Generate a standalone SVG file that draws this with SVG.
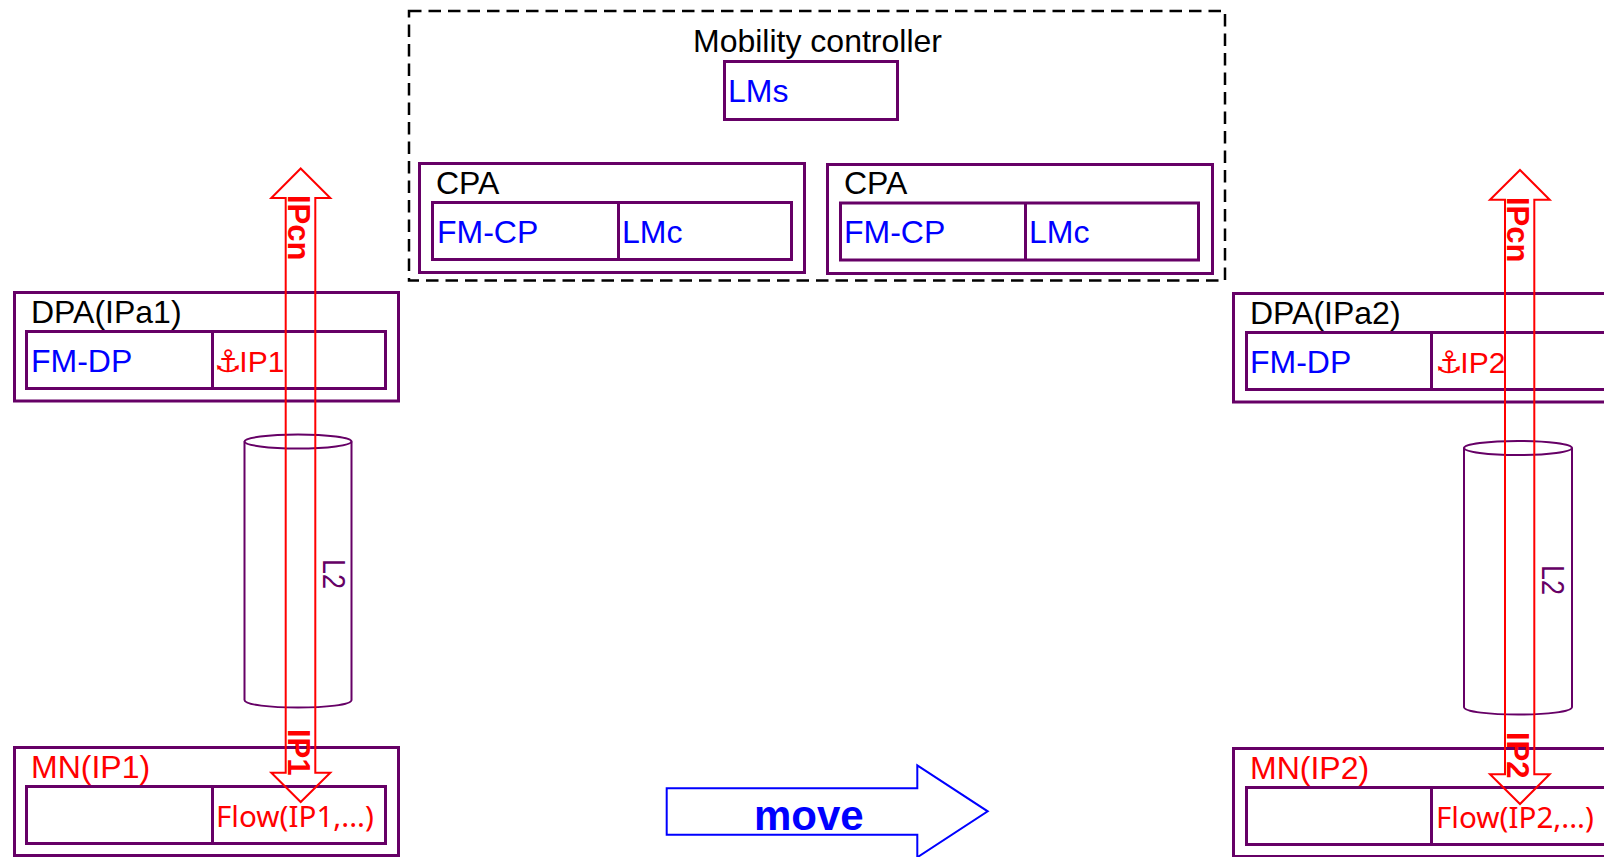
<svg xmlns="http://www.w3.org/2000/svg" width="1604" height="857" viewBox="0 0 1604 857">
<style>
text{font-family:"Liberation Sans",Arial,sans-serif;font-size:32px}
.box{fill:none;stroke:#660066;stroke-width:3}
.cyl{fill:none;stroke:#660066;stroke-width:2}
.arw{fill:none;stroke:#ff0000;stroke-width:2}
.blk{fill:#000}.blu{fill:#0000ff}.red{fill:#ff0000}
.nt{font-family:"Noto Sans","Open Sans",sans-serif;font-size:29.6px}
.anc{font-family:"DejaVu Sans",sans-serif;font-size:31px;letter-spacing:-2.5px}
.ip{font-size:30px}
.rot{font-size:31px}
.b{font-weight:bold}
.pur{fill:#660066}
</style>
<rect width="1604" height="857" fill="#fff"/>
<g id="mobility-controller">
<rect x="409" y="11" width="816" height="269.5" fill="none" stroke="#000" stroke-width="2.5" stroke-dasharray="12.5 7"/>
<text class="blk" x="693" y="52">Mobility controller</text>
</g>
<g id="lms"><rect class="box" x="724.5" y="61.5" width="173" height="58"/><text class="blu" x="728" y="102">LMs</text></g>
<g id="cpa1">
<rect class="box" x="419.5" y="163.5" width="385" height="109"/>
<text class="blk" x="436" y="194">CPA</text>
<rect class="box" x="432.5" y="202.5" width="359" height="57"/><path class="box" d="M618.5 202.5V261"/>
<text class="blu" x="437" y="243">FM-CP</text><text class="blu" x="622" y="243">LMc</text>
</g>
<g id="cpa2">
<rect class="box" x="827.5" y="164.5" width="385" height="109"/>
<text class="blk" x="844" y="194">CPA</text>
<rect class="box" x="840.5" y="203" width="358" height="57"/><path class="box" d="M1025.5 203V260"/>
<text class="blu" x="844" y="243">FM-CP</text><text class="blu" x="1029" y="243">LMc</text>
</g>
<g id="dpa1">
<rect class="box" x="14.5" y="292.5" width="384" height="108.5"/>
<text class="blk" x="31" y="323">DPA(IPa1)</text>
<rect class="box" x="26.5" y="331.5" width="359" height="57"/><path class="box" d="M212.5 331.5V390"/>
<text class="blu" x="31" y="372">FM-DP</text>
<text class="red" x="214" y="372"><tspan class="anc">⚓</tspan><tspan class="ip">IP1</tspan></text>
</g>
<g id="dpa2">
<rect class="box" x="1233.5" y="293.5" width="385" height="108.5"/>
<text class="blk" x="1250" y="324">DPA(IPa2)</text>
<rect class="box" x="1246.5" y="332.5" width="359" height="57"/><path class="box" d="M1431.5 332.5V391"/>
<text class="blu" x="1250" y="373">FM-DP</text>
<text class="red" x="1435" y="373"><tspan class="anc">⚓</tspan><tspan class="ip">IP2</tspan></text>
</g>
<g id="mn1">
<rect class="box" x="14.5" y="747.5" width="384" height="108"/>
<text class="red" x="31" y="778">MN(IP1)</text>
<rect class="box" x="26.5" y="786.5" width="359" height="57"/><path class="box" d="M212.5 786.5V845"/>
<text class="red nt" x="216" y="827">Flow(IP1,...)</text>
</g>
<g id="mn2">
<rect class="box" x="1233.5" y="748.5" width="385" height="108"/>
<text class="red" x="1250" y="779">MN(IP2)</text>
<rect class="box" x="1246.5" y="787.5" width="359" height="57"/><path class="box" d="M1431.5 787.5V846"/>
<text class="red nt" x="1436" y="828">Flow(IP2,...)</text>
</g>
<g id="tunnel1">
<path class="cyl" d="M244.5 441.5V700C244.5 710 351.5 710 351.5 700V441.5"/>
<ellipse class="cyl" cx="298" cy="441.5" rx="53.5" ry="7"/>
<text class="pur" transform="translate(322.7 559) rotate(90) scale(.87 1)" style="font-size:31px">L2</text>
</g>
<g id="tunnel2">
<path class="cyl" d="M1464 448V707C1464 717 1572 717 1572 707V448"/>
<ellipse class="cyl" cx="1518" cy="448" rx="54" ry="7"/>
<text class="pur" transform="translate(1542 565) rotate(90) scale(.87 1)" style="font-size:31px">L2</text>
</g>
<g id="connectors">
<path class="arw" d="M300.7 168.5L330.3 198H315.3V772.7H330.3L300.7 802L271.3 772.7H285.7V198H271.3Z"/>
<path class="arw" d="M1520 170L1549.7 199.7H1534.3V774.3H1549.7L1520 804L1490 774.3H1505V199.7H1490Z"/>
<path d="M666.7 788.3H917.3V765.3L987.7 811.3L917.3 857.3V834.7H666.7Z" fill="none" stroke="#0000ff" stroke-width="2"/>
</g>
<g id="labels">
<text class="red b rot" transform="translate(287.5 195) rotate(90)">IPcn</text>
<text class="red b rot" transform="translate(287.5 729) rotate(90)">IP1</text>
<text class="red b rot" transform="translate(1507 197) rotate(90)">IPcn</text>
<text class="red b rot" transform="translate(1507 732) rotate(90)">IP2</text>
<text class="blu b" x="754" y="830" style="font-size:42px">move</text>
</g>
</svg>
